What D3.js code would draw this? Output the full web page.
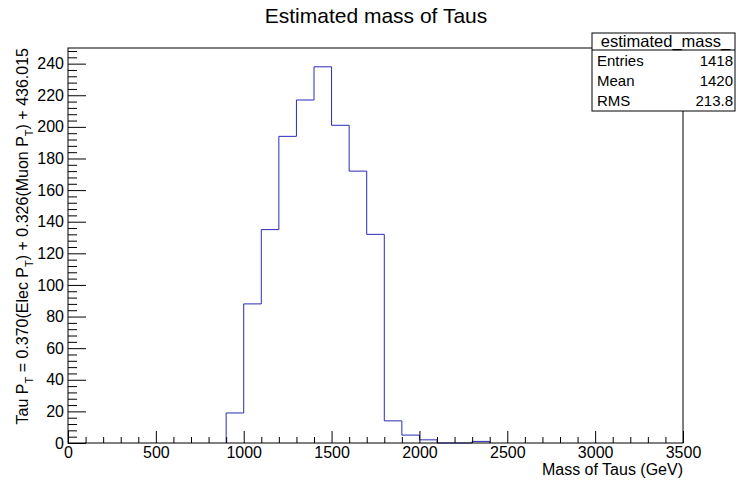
<!DOCTYPE html>
<html>
<head>
<meta charset="utf-8">
<script src="https://cdn.jsdelivr.net/npm/d3@7"></script>
<style>
  body { margin: 0; background: #fff; }
  svg text { font-family: "Liberation Sans", Arial, sans-serif; fill: #000; }
</style>
</head>
<body>
<div id="chart"></div>
<script>
// histogram bins (lower edge, GeV) and counts
const binStarts = [900, 1000, 1100, 1200, 1300, 1400, 1500, 1600, 1700, 1800, 1900, 2000, 2100, 2200, 2300];
const binCounts = [19, 88, 135, 194, 217, 238, 201, 172, 132, 14, 5, 2, 0, 0, 1];
const binWidth = 100;

const xMajorTicks = [0, 500, 1000, 1500, 2000, 2500, 3000, 3500];
const yMajorTicks = [0, 20, 40, 60, 80, 100, 120, 140, 160, 180, 200, 220, 240];

const statLabels = ["Entries", "Mean", "RMS"];
const statValues = ["1418", "1420", "213.8"];

class HistogramChart {
  constructor(_config) {
    this.config = {
      parentElement: _config.parentElement,
      containerWidth: _config.containerWidth || 738,
      containerHeight: _config.containerHeight || 481,
      margin: _config.margin || { top: 48, right: 55, bottom: 38, left: 68 },
    };
    this.initVis();
  }

  initVis() {
    let vis = this;
    const m = vis.config.margin;
    vis.width = vis.config.containerWidth - m.left - m.right;
    vis.height = vis.config.containerHeight - m.top - m.bottom;

    vis.root = d3
      .select(vis.config.parentElement)
      .append("svg")
      .attr("width", vis.config.containerWidth)
      .attr("height", vis.config.containerHeight);

    vis.svg = vis.root
      .append("g")
      .attr("transform", `translate(${m.left},${m.top})`);

    vis.xScale = d3.scaleLinear().domain([0, 3500]).range([0, vis.width]);
    // ROOT pads the maximum by 5%
    vis.yScale = d3
      .scaleLinear()
      .domain([0, d3.max(binCounts) * 1.05])
      .range([vis.height, 0]);

    this.renderVis();
  }

  renderVis() {
    let vis = this;
    const m = vis.config.margin;

    // histogram outline
    const pts = [[binStarts[0], 0]];
    binStarts.forEach((b, i) => {
      pts.push([b, binCounts[i]]);
      pts.push([b + binWidth, binCounts[i]]);
    });
    pts.push([binStarts[binStarts.length - 1] + binWidth, 0]);

    const line = d3
      .line()
      .x((d) => vis.xScale(d[0]))
      .y((d) => vis.yScale(d[1]));

    vis.svg
      .append("path")
      .datum(pts)
      .attr("d", line)
      .attr("fill", "none")
      .attr("stroke", "#2a2ab8")
      .attr("stroke-width", 1);

    // minor ticks
    const xMinor = d3.range(0, 3501, 100).filter((v) => v % 500 !== 0);
    const yMinor = d3
      .range(0, vis.yScale.domain()[1], 4)
      .filter((v) => v % 20 !== 0);

    vis.svg
      .append("g")
      .attr("transform", `translate(0,${vis.height})`)
      .call(d3.axisBottom(vis.xScale).tickValues(xMinor).tickSize(-6).tickSizeOuter(0).tickFormat(""))
      .call((g) => g.select(".domain").remove())
      .call((g) => g.selectAll("text").remove());

    vis.svg
      .append("g")
      .call(d3.axisLeft(vis.yScale).tickValues(yMinor).tickSize(-9).tickSizeOuter(0).tickFormat(""))
      .call((g) => g.select(".domain").remove())
      .call((g) => g.selectAll("text").remove());

    // major ticks with labels
    const xAxis = vis.svg
      .append("g")
      .attr("transform", `translate(0,${vis.height})`)
      .call(d3.axisBottom(vis.xScale).tickValues(xMajorTicks).tickSize(-12).tickSizeOuter(0).tickPadding(4).tickFormat(d3.format("d")));
    xAxis.select(".domain").remove();
    xAxis.selectAll("text").style("font-size", "16px");

    const yAxis = vis.svg
      .append("g")
      .call(d3.axisLeft(vis.yScale).tickValues(yMajorTicks).tickSize(-18).tickSizeOuter(0).tickPadding(4).tickFormat(d3.format("d")));
    yAxis.select(".domain").remove();
    yAxis.selectAll("text").style("font-size", "16px");

    vis.svg.selectAll(".tick line").attr("stroke", "#000");

    // frame
    vis.svg
      .append("rect")
      .attr("x", 0)
      .attr("y", 0)
      .attr("width", vis.width)
      .attr("height", vis.height)
      .attr("fill", "none")
      .attr("stroke", "#000")
      .attr("stroke-width", 1);

    // title
    vis.root
      .append("text")
      .attr("x", 376)
      .attr("y", 23)
      .attr("text-anchor", "middle")
      .style("font-size", "21px")
      .text("Estimated mass of Taus");

    // x axis title
    vis.root
      .append("text")
      .attr("x", m.left + vis.width)
      .attr("y", 475)
      .attr("text-anchor", "end")
      .style("font-size", "16px")
      .text("Mass of Taus (GeV)");

    // y axis title with subscripts
    const yt = vis.root
      .append("text")
      .attr("transform", `translate(28,${m.top}) rotate(-90)`)
      .attr("text-anchor", "end")
      .style("font-size", "16px");
    const parts = [
      ["Tau P", false], ["T", true], [" = 0.370(Elec P", false], ["T", true],
      [") + 0.326(Muon P", false], ["T", true], [") + 436.015", false],
    ];
    let prevSub = false;
    parts.forEach(([t, sub]) => {
      yt.append("tspan")
        .attr("dy", sub ? 5 : prevSub ? -5 : null)
        .style("font-size", sub ? "11px" : null)
        .text(t);
      prevSub = sub;
    });

    // stats box
    const box = { x0: 592, x1: 735, y0: 33, y1: 111, head: 50 };
    const stats = vis.root.append("g");
    stats
      .append("rect")
      .attr("x", box.x0)
      .attr("y", box.y0)
      .attr("width", box.x1 - box.x0)
      .attr("height", box.y1 - box.y0)
      .attr("fill", "#fff")
      .attr("stroke", "#000");
    stats
      .append("line")
      .attr("x1", box.x0)
      .attr("x2", box.x1)
      .attr("y1", box.head)
      .attr("y2", box.head)
      .attr("stroke", "#000");
    stats
      .append("text")
      .attr("x", (box.x0 + box.x1) / 2 + 2)
      .attr("y", 46.5)
      .attr("text-anchor", "middle")
      .style("font-size", "16.5px")
      .text("estimated_mass_");

    const rowY = d3.scaleBand().domain(statLabels).range([box.head, box.y1]);
    statLabels.forEach((lab, i) => {
      const by = rowY(lab) + rowY.bandwidth() / 2 + 5.5;
      stats.append("text").attr("x", 597).attr("y", by).style("font-size", "15px").text(lab);
      stats
        .append("text")
        .attr("x", 733)
        .attr("y", by)
        .attr("text-anchor", "end")
        .style("font-size", "15px")
        .text(statValues[i]);
    });
  }
}

new HistogramChart({ parentElement: "#chart" });
</script>
</body>
</html>
